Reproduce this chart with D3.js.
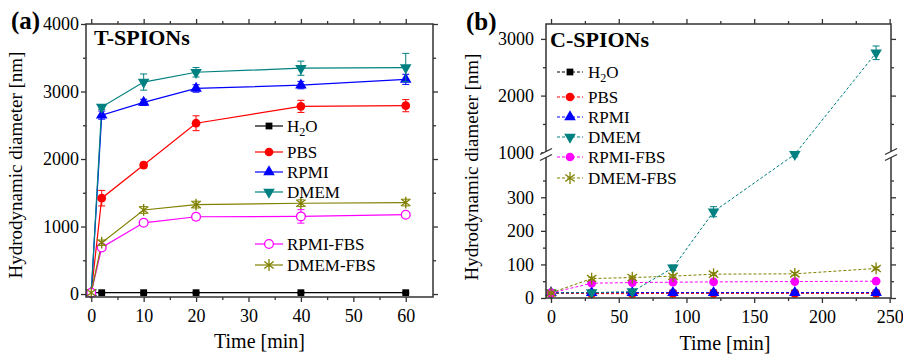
<!DOCTYPE html>
<html>
<head>
<meta charset="utf-8">
<script src="https://cdn.jsdelivr.net/npm/d3@7"></script>
<style>
body { margin: 0; background: #fff; }
text { font-family: "Liberation Serif", "Times New Roman", serif; fill: #000; }
</style>
</head>
<body>
<svg id="chart" width="903" height="355"></svg>
<script>
// ---- data: panel (a) T-SPIONs ----
var timeA = [0, 2, 10, 20, 40, 60];
var h2oA = [20, 20, 20, 20, 20, 20];
var pbsA = [20, 1420, 1910, 2530, 2780, 2790];
var rpmiA = [20, 2650, 2840, 3045, 3095, 3180];
var dmemA = [20, 2770, 3140, 3285, 3345, 3355];
var rpmiFbsA = [20, 690, 1055, 1145, 1150, 1175];
var dmemFbsA = [20, 760, 1245, 1325, 1345, 1355];
var h2oErrA = [0, 10, 10, 10, 10, 10];
var pbsErrA = [0, 115, 40, 110, 90, 90];
var rpmiErrA = [0, 60, 45, 55, 55, 75];
var dmemErrA = [0, 35, 120, 70, 105, 210];
var rpmiFbsErrA = [0, 40, 40, 50, 100, 30];
var dmemFbsErrA = [0, 40, 50, 50, 50, 50];

// ---- data: panel (b) C-SPIONs ----
var timeB = [0, 30, 60, 90, 120, 180, 240];
var h2oB = [15, 15, 15, 15, 15, 15, 15];
var pbsB = [14, 13, 13, 14, 14, 14, 14];
var rpmiB = [16, 16, 16, 16, 16, 16, 16];
var dmemB = [15, 16, 19, 90, 257, 965, 2755];
var rpmiFbsB = [15, 44, 46, 47, 48, 49, 50];
var dmemFbsB = [15, 58, 61, 65, 71, 72, 88];
var h2oErrB = [2, 2, 2, 2, 2, 2, 2];
var pbsErrB = [2, 2, 2, 2, 2, 2, 2];
var rpmiErrB = [2, 2, 2, 3, 3, 3, 3];
var dmemErrB = [2, 3, 3, 8, 15, 45, 120];
var rpmiFbsErrB = [2, 3, 3, 3, 3, 3, 3];
var dmemFbsErrB = [2, 4, 4, 4, 4, 4, 4];

var names = ["H2O", "PBS", "RPMI", "DMEM", "RPMI-FBS", "DMEM-FBS"];
var colors = ["#000000", "#ff0000", "#0000ff", "#008080", "#ff00ff", "#808000"];

var ticksA_x = [0, 10, 20, 30, 40, 50, 60];
var minorA_x = [5, 15, 25, 35, 45, 55];
var ticksA_y = [0, 1000, 2000, 3000, 4000];
var minorA_y = [500, 1500, 2500, 3500];
var ticksB_x = [0, 50, 100, 150, 200, 250];
var minorB_x = [25, 75, 125, 175, 225];
var ticksB_low = [0, 100, 200, 300];
var minorB_low = [50, 150, 250, 350];
var ticksB_high = [1000, 2000, 3000];
var minorB_high = [1500, 2500];

var svg = d3.select("#chart");

// star marker (asterisk with vertical bar)
var symbolStar = {
  draw: function(ctx, size) {
    var r = Math.sqrt(size) * 0.62;
    var a = r * 0.8, b = r * 0.6;
    ctx.moveTo(0, -r); ctx.lineTo(0, r);
    ctx.moveTo(-a, -b); ctx.lineTo(a, b);
    ctx.moveTo(-a, b); ctx.lineTo(a, -b);
  }
};

function markerPath(i) {
  var types = [d3.symbolSquare, d3.symbolCircle, d3.symbolTriangle, d3.symbolTriangle, d3.symbolCircle, symbolStar];
  var sizes = [46, 60, 58, 58, 60, 90];
  return d3.symbol().type(types[i]).size(sizes[i])();
}

function drawMarker(g, i, x, y, hollowCircle) {
  var p = g.append("path")
    .attr("d", markerPath(i))
    .attr("transform", "translate(" + x + "," + y + ")" + (i == 3 ? " rotate(180)" : ""));
  if (i == 5) {
    p.attr("fill", "none").attr("stroke", colors[i]).attr("stroke-width", 1.3);
  } else if (i == 4 && hollowCircle) {
    p.attr("fill", "#fff").attr("stroke", colors[i]).attr("stroke-width", 1.3);
  } else {
    p.attr("fill", colors[i]);
  }
}

// ticks on all four sides, pointing outward
function drawTicks(g, axisFn, scale, major, minor, transform, labels, pad) {
  var ax = g.append("g").attr("transform", transform)
    .call(axisFn(scale).tickValues(major).tickSize(5).tickPadding(pad)
      .tickFormat(labels ? d3.format("d") : ""));
  ax.select(".domain").remove();
  ax.selectAll("line").attr("stroke", "#333").attr("stroke-width", 1.3);
  ax.selectAll("text").style("font-size", "18px").attr("fill", "#000");
  var mi = g.append("g").attr("transform", transform)
    .call(axisFn(scale).tickValues(minor).tickSize(3).tickFormat(""));
  mi.select(".domain").remove();
  mi.selectAll("line").attr("stroke", "#333").attr("stroke-width", 1.3);
  return ax;
}

function drawErrorBars(g, xs, ys, errs, x, y, color) {
  xs.forEach(function(t, k) {
    if (!errs[k]) return;
    var cx = x(t), y1 = y(ys[k] - errs[k]), y2 = y(ys[k] + errs[k]);
    g.append("line").attr("x1", cx).attr("x2", cx).attr("y1", y1).attr("y2", y2)
      .attr("stroke", color).attr("stroke-width", 1);
    [y1, y2].forEach(function(yy) {
      g.append("line").attr("x1", cx - 3.5).attr("x2", cx + 3.5).attr("y1", yy).attr("y2", yy)
        .attr("stroke", color).attr("stroke-width", 1);
    });
  });
}

function drawLegendLabel(g, x, y, name) {
  var t = g.append("text").attr("x", x).attr("y", y).attr("dy", "0.35em").style("font-size", "17px");
  if (name == "H2O") {
    t.append("tspan").text("H");
    t.append("tspan").text("2").style("font-size", "12px").attr("dy", "4");
    t.append("tspan").text("O").attr("dy", "-4");
  } else {
    t.text(name);
  }
}

// ================= panel (a) =================
var aLeft = 86, aRight = 433, aTop = 24, aBottom = 297;
var xA = d3.scaleLinear().domain([-1, 65.2]).range([aLeft, aRight]);
var yA = d3.scaleLinear().domain([-44, 4000]).range([aBottom, aTop]);

var gA = svg.append("g");
drawTicks(gA, d3.axisBottom, xA, ticksA_x, minorA_x, "translate(0," + aBottom + ")", true, 7);
drawTicks(gA, d3.axisTop, xA, ticksA_x, minorA_x, "translate(0," + aTop + ")", false, 3);
drawTicks(gA, d3.axisLeft, yA, ticksA_y, minorA_y, "translate(" + aLeft + ",0)", true, 2);
drawTicks(gA, d3.axisRight, yA, ticksA_y, minorA_y, "translate(" + aRight + ",0)", false, 3);

var dataA = [h2oA, pbsA, rpmiA, dmemA, rpmiFbsA, dmemFbsA];
var errA = [h2oErrA, pbsErrA, rpmiErrA, dmemErrA, rpmiFbsErrA, dmemFbsErrA];

var plotA = gA.append("g");
dataA.forEach(function(vals, i) {
  var line = d3.line().x(function(d, k) { return xA(timeA[k]); }).y(function(d) { return yA(d); });
  plotA.append("path").datum(vals).attr("d", line)
    .attr("fill", "none").attr("stroke", colors[i]).attr("stroke-width", 1.2);
});
dataA.forEach(function(vals, i) {
  drawErrorBars(plotA, timeA, vals, errA[i], xA, yA, colors[i]);
  vals.forEach(function(v, k) { drawMarker(plotA, i, xA(timeA[k]), yA(v), true); });
});

gA.append("rect").attr("x", aLeft).attr("y", aTop).attr("width", aRight - aLeft).attr("height", aBottom - aTop)
  .attr("fill", "none").attr("stroke", "#333").attr("stroke-width", 1.5);

// legend (a)
var legYA = [126, 152, 172, 192, 244, 265];
names.forEach(function(n, i) {
  gA.append("line").attr("x1", 255).attr("x2", 283).attr("y1", legYA[i]).attr("y2", legYA[i])
    .attr("stroke", colors[i]).attr("stroke-width", 1.2);
  drawMarker(gA, i, 269, legYA[i], true);
  drawLegendLabel(gA, 287, legYA[i], n);
});

gA.append("text").attr("x", 94).attr("y", 45).text("T-SPIONs")
  .style("font-size", "22px").style("font-weight", "bold");
gA.append("text").attr("x", 11).attr("y", 29).text("(a)")
  .style("font-size", "25px").style("font-weight", "bold");
gA.append("text").attr("x", (aLeft + aRight) / 2).attr("y", 348).attr("text-anchor", "middle")
  .text("Time [min]").style("font-size", "20px");
gA.append("text").attr("transform", "translate(22,165) rotate(-90)").attr("text-anchor", "middle")
  .text("Hydrodynamic diameter [nm]").style("font-size", "19px");

// ================= panel (b) =================
var bLeft = 546, bRight = 891, bTop = 24, bBottom = 298;
var xB = d3.scaleLinear().domain([-3.7, 251]).range([bLeft, bRight]);
var yLow = d3.scaleLinear().domain([0, 420]).range([bBottom, 157]);
var yHigh = d3.scaleLinear().domain([1000, 3263]).range([152.3, bTop]);
function yB(v) { return v <= 420 ? yLow(v) : yHigh(v); }

var gB = svg.append("g");
drawTicks(gB, d3.axisBottom, xB, ticksB_x, minorB_x, "translate(0," + bBottom + ")", true, 7);
drawTicks(gB, d3.axisTop, xB, ticksB_x, minorB_x, "translate(0," + bTop + ")", false, 3);
drawTicks(gB, d3.axisLeft, yLow, ticksB_low, minorB_low, "translate(" + bLeft + ",0)", true, 7);
drawTicks(gB, d3.axisRight, yLow, ticksB_low, minorB_low, "translate(" + bRight + ",0)", false, 3);
drawTicks(gB, d3.axisLeft, yHigh, ticksB_high, minorB_high, "translate(" + bLeft + ",0)", true, 7);
drawTicks(gB, d3.axisRight, yHigh, ticksB_high, minorB_high, "translate(" + bRight + ",0)", false, 3);

var dataB = [h2oB, pbsB, rpmiB, dmemB, rpmiFbsB, dmemFbsB];
var errB = [h2oErrB, pbsErrB, rpmiErrB, dmemErrB, rpmiFbsErrB, dmemFbsErrB];

var plotB = gB.append("g");
dataB.forEach(function(vals, i) {
  var line = d3.line().x(function(d, k) { return xB(timeB[k]); }).y(function(d) { return yB(d); });
  plotB.append("path").datum(vals).attr("d", line)
    .attr("fill", "none").attr("stroke", colors[i]).attr("stroke-width", 1).attr("stroke-dasharray", "3,2");
});
dataB.forEach(function(vals, i) {
  drawErrorBars(plotB, timeB, vals, errB[i], xB, yB, colors[i]);
  vals.forEach(function(v, k) { drawMarker(plotB, i, xB(timeB[k]), yB(v), false); });
});

gB.append("rect").attr("x", bLeft).attr("y", bTop).attr("width", bRight - bLeft).attr("height", bBottom - bTop)
  .attr("fill", "none").attr("stroke", "#333").attr("stroke-width", 1.5);

// axis break marks
[bLeft, bRight].forEach(function(ax) {
  gB.append("polygon")
    .attr("points", [[ax - 6, 154], [ax + 6, 149], [ax + 6, 155], [ax - 6, 160]].join(" "))
    .attr("fill", "#fff");
  [151.5, 157.5].forEach(function(yy) {
    gB.append("line").attr("x1", ax - 6).attr("x2", ax + 6).attr("y1", yy + 3).attr("y2", yy - 3)
      .attr("stroke", "#333").attr("stroke-width", 1.3);
  });
});

// legend (b)
var legYB = [72, 97, 117, 137, 157, 178];
names.forEach(function(n, i) {
  gB.append("line").attr("x1", 557).attr("x2", 583).attr("y1", legYB[i]).attr("y2", legYB[i])
    .attr("stroke", colors[i]).attr("stroke-width", 1).attr("stroke-dasharray", "3,2");
  drawMarker(gB, i, 570, legYB[i], false);
  drawLegendLabel(gB, 588, legYB[i], n);
});

gB.append("text").attr("x", 550).attr("y", 47).text("C-SPIONs")
  .style("font-size", "22px").style("font-weight", "bold");
gB.append("text").attr("x", 466).attr("y", 30).text("(b)")
  .style("font-size", "25px").style("font-weight", "bold");
gB.append("text").attr("x", 725).attr("y", 350).attr("text-anchor", "middle")
  .text("Time [min]").style("font-size", "20px");
gB.append("text").attr("transform", "translate(478,167) rotate(-90)").attr("text-anchor", "middle")
  .text("Hydrodynamic diameter [nm]").style("font-size", "19px");
</script>
</body>
</html>
